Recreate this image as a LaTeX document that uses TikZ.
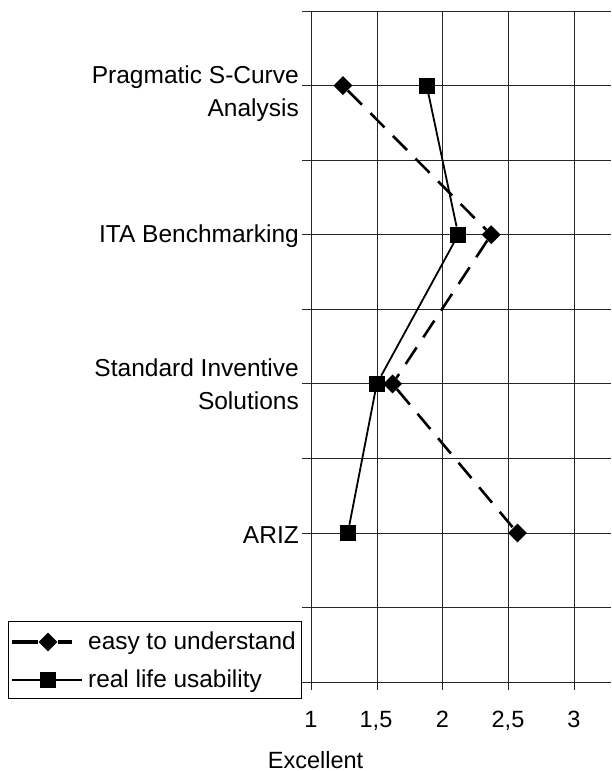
\documentclass[tikz,border=0pt]{standalone}
\usepackage{fontspec}
\setmainfont{Liberation Sans}
\usetikzlibrary{shapes.geometric}
\begin{document}
\begin{tikzpicture}[x=1pt,y=-1pt,
  gridline/.style={line width=1pt,black!85},
  catlabel/.style={inner sep=0pt,align=right,font=\fontsize{24.5}{32.5}\selectfont},
  ticklabel/.style={inner sep=0pt,font=\fontsize{23.5}{27}\selectfont},
  legtext/.style={inner sep=0pt,anchor=base west,font=\fontsize{24.4}{28}\selectfont},
  sqmark/.style={rectangle,fill=black,inner sep=0pt,minimum size=16pt},
  dmmark/.style={diamond,fill=black,inner sep=0pt,minimum size=19pt},
  easyline/.style={line width=2.6pt,dash pattern=on 20pt off 12pt},
  realline/.style={line width=1.8pt}]
\useasboundingbox (0,0) rectangle (611,771);

% horizontal grid lines with left ticks
\foreach \yy in {11,85.6,160.1,234.7,309.3,383.9,458.4,533,607.6,682.2}
  \draw[gridline] (302,\yy) -- (611,\yy);
% vertical grid lines with bottom ticks
\foreach \xx in {311,377,442.5,508,574}
  \draw[gridline] (\xx,11) -- (\xx,690);

% category labels
\node[catlabel,anchor=east] (c1) at (299,93.5) {Pragmatic S-Curve\\Analysis};
\node[catlabel,anchor=base east] (c2) at (299,242) {ITA Benchmarking};
\node[catlabel,anchor=east] (c3) at (299,384) {Standard Inventive\\Solutions};
\node[catlabel,anchor=base east] (c4) at (299,543) {ARIZ};

% value axis labels
\node[ticklabel,anchor=base] (t1) at (311,727) {1};
\node[ticklabel,anchor=base] (t2) at (376,727) {1,5};
\node[ticklabel,anchor=base] (t3) at (442.5,727) {2};
\node[ticklabel,anchor=base] (t4) at (508,727) {2,5};
\node[ticklabel,anchor=base] (t5) at (574,727) {3};
\node[ticklabel,anchor=base] (ttl) at (315.5,768) {Excellent};

% data series (x: 131.5pt per unit, 1 at 311)
\begin{scope}[xshift=179.5pt,x=131.5pt]
  \node[sqmark] (r1) at (1.88,85.6) {};
  \node[sqmark] (r2) at (2.12,234.7) {};
  \node[sqmark] (r3) at (1.50,383.9) {};
  \node[sqmark] (r4) at (1.28,533) {};
  \node[dmmark] (e1) at (1.243,85.6) {};
  \node[dmmark] (e2) at (2.37,234.7) {};
  \node[dmmark] (e3) at (1.62,383.9) {};
  \node[dmmark] (e4) at (2.57,533) {};
\end{scope}
\draw[realline] (r1) -- (r2) -- (r3) -- (r4);
\draw[easyline] (e1) -- (e2) -- (e3) -- (e4);

% legend
\node[draw=black,line width=0.8pt,fill=white,inner sep=0pt,minimum width=293pt,minimum height=77pt,anchor=north west] (leg) at (8,621) {};
\coordinate (la1) at (12,642);
\coordinate (lb1) at (72,642);
\coordinate (la2) at (12,680);
\coordinate (lb2) at (82,680);
\node[dmmark] (lm1) at (48,642) {};
\node[sqmark] (lm2) at (48,680) {};
\draw[line width=4pt] (la1) -- (lm1) -- (lb1);
\draw[line width=1.6pt] (la2) -- (lm2) -- (lb2);
\node[legtext] (lt1) at (88,649) {easy to understand};
\node[legtext] (lt2) at (88,687) {real life usability};
\end{tikzpicture}
\end{document}
